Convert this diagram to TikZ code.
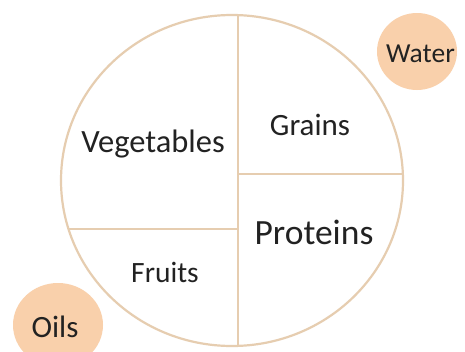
\documentclass[tikz,border=0pt]{standalone}
\usepackage{fontspec}
\setmainfont{Carlito}
\definecolor{rim}{HTML}{E6CDB0}
\definecolor{peach}{HTML}{F9D0AB}
\definecolor{ink}{HTML}{222222}
\begin{document}
\begin{tikzpicture}[x=1pt,y=-1pt,
  rimline/.style={draw=rim,line width=2.2pt},
  bubble/.style={fill=peach},
  lbl/.style={anchor=base,inner sep=0pt,text=ink,font=\fontsize{31}{31}\selectfont}]
\useasboundingbox (0,0) rectangle (465,351);
\fill[white] (0,0) rectangle (465,351);
% main plate
\draw[rimline] (232,180.5) ellipse [x radius=171, y radius=165.5];
\coordinate (top) at (238,15.5);
\coordinate (bot) at (238,345.5);
\coordinate (rmid) at (238,174);
\coordinate (rend) at (402.5,174);
\coordinate (lmid) at (238,229);
\coordinate (lend) at (68,229);
\draw[rimline] (top) -- (bot);
\draw[rimline] (rmid) -- (rend);
\draw[rimline] (lmid) -- (lend);
% side bubbles
\fill[bubble] (417,51.5) ellipse [x radius=40, y radius=38.5];
\fill[bubble] (58,325) ellipse [x radius=45, y radius=42];
% labels
\node[lbl,font=\fontsize{32.5}{32.5}\selectfont] (veg) at (153,152) {Vegetables};
\node[lbl] (grain) at (310,135) {Grains};
\node[lbl,font=\fontsize{35.5}{35.5}\selectfont] (prot) at (314,244) {Proteins};
\node[lbl,font=\fontsize{29.5}{29.5}\selectfont] (fruit) at (165,282) {Fruits};
\node[lbl,font=\fontsize{27.5}{27.5}\selectfont] (water) at (420.5,62.5) {Water};
\node[lbl] (oil) at (55,337) {Oils};
\end{tikzpicture}
\end{document}
